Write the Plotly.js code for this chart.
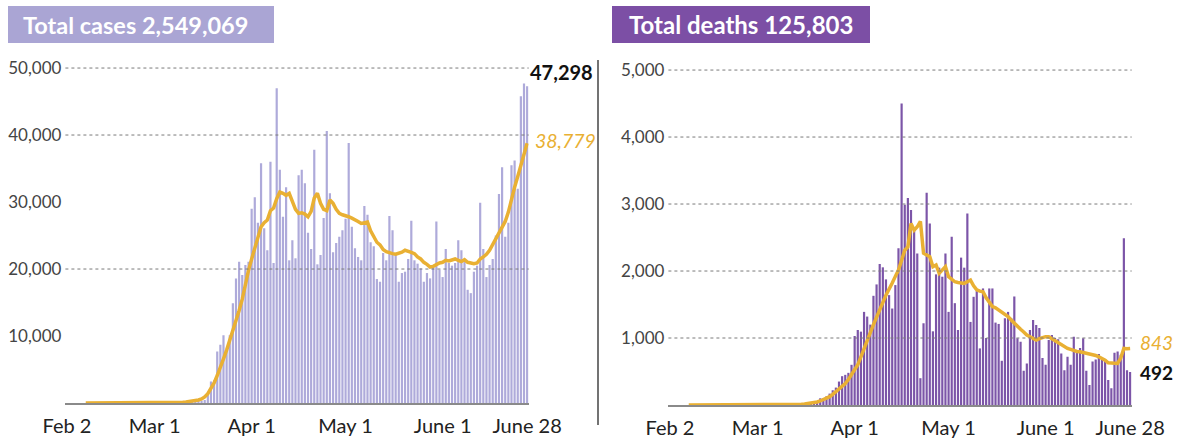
<!DOCTYPE html>
<html>
<head>
<meta charset="utf-8">
<script src="https://cdn.plot.ly/plotly-3.0.1.min.js"></script>
<style>html,body{margin:0;padding:0;background:#fff}#chart{width:1190px;height:438px}</style>
</head>
<body>
<div id="chart"></div>
<script>
// ---- data ----
const startDate = '2020-02-02';
const tickDates = ['2020-02-02','2020-03-01','2020-04-01','2020-05-01','2020-06-01','2020-06-28'];
const tickLabels = ['Feb 2','Mar 1','Apr 1','May 1','June 1','June 28'];

const casesTitle = 'Total cases 2,549,069';
const deathsTitle = 'Total deaths 125,803';

const dailyCases = [
  0,0,3,0,0,0,1,0,0,1,
  0,1,0,0,0,1,0,0,2,0,
  0,1,18,0,0,1,0,3,
  5,8,20,22,30,45,60,80,100,150,
  180,200,230,250,280,320,
  450,1200,3200,3400,7700,8700,10100,7900,10100,14900,18600,21100,19100,20600,21100,
  29000,30700,26900,35800,26100,22800,36000,20900,47000,34800,
  27800,32200,21300,24300,21600,34000,34800,32800,25400,23000,
  37800,20700,22100,27600,40600,31300,22500,23900,24800,25800,
  27500,38800,26300,23100,21800,21300,29400,28100,24000,23400,
  18500,18100,22400,21300,27900,25800,22100,18100,19400,19600,
  21500,27200,21300,20800,20100,18100,19400,18600,20500,27100,
  19900,18800,23000,20900,20500,20900,24300,22800,21500,16900,
  16400,19600,20500,29900,23000,18800,20600,21500,25000,31200,
  35200,24800,26900,35500,36200,32000,45800,47700,47298
];

const avgCases = [
  null,null,null,null,null,null,
  0,0,0,0,0,0,1,1,1,1,1,1,1,1,1,1,1,2,3,3,3,4,
  5,7,10,15,20,28,40,55,75,100,140,
  190,260,350,450,600,900,1400,2100,3000,4100,5200,6600,7900,9300,10700,12300,13800,15500,17800,19800,
  21500,23000,24800,26300,26900,27300,28700,29100,30500,31500,
  31300,31000,31300,30200,28900,28300,28400,28200,27800,28600,
  30600,31300,29800,28900,28700,30300,29800,28900,28300,28100,
  28000,27800,27600,27400,27100,26800,26900,27000,25700,24800,
  24000,23600,22900,22600,22400,22300,22200,22300,22500,22800,
  22700,22500,22300,21800,21500,21000,20700,20300,20400,20700,
  20900,21000,21300,21200,21400,21500,21300,21100,21400,21000,
  20900,20800,20900,21500,21800,22200,22800,23700,24600,25500,
  26200,27100,28500,30500,32200,33800,35500,37000,38779
];

const dailyDeaths = [
  0,0,0,0,0,0,0,0,0,0,
  0,0,0,0,0,0,0,0,0,0,
  0,0,0,0,0,0,0,1,
  1,0,4,3,2,1,1,4,3,3,5,5,
  8,10,12,18,25,30,45,60,100,100,130,170,220,260,350,430,450,480,600,
  1030,1120,1095,1390,1320,1200,1630,1800,2105,2055,1875,1640,1440,
  1790,2340,4500,2990,3090,2910,2610,2260,400,1220,
  3170,2710,1100,1950,2050,1915,2260,1390,2510,1520,
  1120,2200,2050,2860,1240,1615,1700,845,
  1740,1000,1740,1740,1230,1210,660,1295,1390,1300,
  1620,995,945,510,620,1120,1270,1195,1150,700,
  600,970,1045,1000,980,770,520,720,600,1020,
  820,850,995,510,300,650,680,760,700,680,
  375,250,780,800,750,2490,520,492
];

const avgDeaths = [
  null,null,null,null,null,null,
  0,0,0,0,0,0,0,0,0,0,0,0,0,0,0,0,0,0,0,0,0,0,
  0,0,1,1,1,2,2,2,3,3,4,5,6,
  8,11,15,20,
  25,35,45,60,80,100,125,160,200,240,
  280,320,380,450,520,600,720,830,950,1080,
  1200,1320,1420,1530,1640,1720,1820,1920,2015,2160,
  2310,2360,2710,2610,2660,2740,2265,2240,2215,2065,
  2090,1965,2020,2065,1915,1880,1840,1830,1820,1815,
  1840,1865,1780,1720,1700,1690,1600,1530,1470,1450,
  1420,1390,1350,1320,1270,1220,1170,1130,1090,1045,
  1020,990,970,990,1010,1020,1020,990,950,920,
  900,870,845,830,810,800,795,785,775,770,
  755,740,720,700,670,630,625,620,620,700,
  845,840,843
];

const casesTicks = [10000,20000,30000,40000,50000];
const casesGrid = [20000,40000,50000];
const deathsTicks = [1000,2000,3000,4000,5000];
const deathsGrid = [1000,2000,3000,4000,5000];

// ---- build dates ----
function buildDates(n){
  const out=[]; const d=new Date(startDate+'T00:00:00Z');
  for(let i=0;i<n;i++){ const t=new Date(d.getTime()+i*86400000); out.push(t.toISOString().slice(0,10)); }
  return out;
}
const dates = buildDates(dailyCases.length);
const lastDate = dates[dates.length-1];
const fmt = v => v.toLocaleString('en-US');

const W=1190,H=438;
const px = x => x/W, py = y => (H-y)/H;

const barLight='#aeaada', barDark='#7c55a8', gold='#e9b033';
const FONT='Lato, "Open Sans", sans-serif';

const traces=[
  {type:'bar', x:dates, y:dailyCases, xaxis:'x', yaxis:'y', marker:{color:barLight}, hoverinfo:'skip'},
  {type:'scatter', mode:'lines', x:dates, y:avgCases, xaxis:'x', yaxis:'y', line:{color:gold,width:3.5}, connectgaps:false, hoverinfo:'skip'},
  {type:'bar', x:dates, y:dailyDeaths, xaxis:'x2', yaxis:'y2', marker:{color:barDark}, hoverinfo:'skip'},
  {type:'scatter', mode:'lines', x:dates, y:avgDeaths, xaxis:'x2', yaxis:'y2', line:{color:gold,width:3.5}, connectgaps:false, hoverinfo:'skip'}
];

const xCommon = {
  type:'date', range:['2020-02-01 12:00','2020-06-28 12:00'],
  tickvals:tickDates, ticktext:tickLabels, showgrid:false, zeroline:false,
  showline:true, linecolor:'#8a8a8a', linewidth:1.5, ticks:'', ticklabelstandoff:4,
  tickfont:{family:FONT,size:20,color:'#222'}, fixedrange:true
};
const yCommon = {
  showgrid:false, zeroline:false, showline:false, ticks:'', ticklabelstandoff:3,
  tickfont:{family:FONT,size:17,color:'#444'}, tickformat:',', fixedrange:true
};

const shapes=[];
casesGrid.forEach(v=>shapes.push({type:'line',xref:'x domain',yref:'y',x0:0,x1:1,y0:v,y1:v,line:{color:'#7a7a7a',width:1,dash:'dot'},layer:'above'}));
deathsGrid.forEach(v=>shapes.push({type:'line',xref:'x2 domain',yref:'y2',x0:0,x1:1,y0:v,y1:v,line:{color:'#7a7a7a',width:1,dash:'dot'},layer:'above'}));
// title boxes
shapes.push({type:'rect',xref:'paper',yref:'paper',x0:px(8),x1:px(274),y0:py(43),y1:py(6),fillcolor:'#aaa5d4',line:{width:0},layer:'above'});
shapes.push({type:'rect',xref:'paper',yref:'paper',x0:px(612),x1:px(870),y0:py(43),y1:py(6),fillcolor:'#7c4fa5',line:{width:0},layer:'above'});
// divider
shapes.push({type:'line',xref:'paper',yref:'paper',x0:px(598),x1:px(598),y0:py(425),y1:py(60),line:{color:'#444',width:1.5}});

const annotations=[
  {xref:'paper',yref:'paper',x:px(21),y:py(25),xanchor:'left',yanchor:'middle',showarrow:false,text:'<b>'+casesTitle+'</b>',font:{family:FONT,size:23.5,color:'#fff'}},
  {xref:'paper',yref:'paper',x:px(627),y:py(25),xanchor:'left',yanchor:'middle',showarrow:false,text:'<b>'+deathsTitle+'</b>',font:{family:FONT,size:24,color:'#fff'}},
  {xref:'x',yref:'y',x:lastDate,y:dailyCases[dailyCases.length-1],xanchor:'left',yanchor:'middle',xshift:1,yshift:14,showarrow:false,text:'<b>'+fmt(dailyCases[dailyCases.length-1])+'</b>',font:{family:FONT,size:20,color:'#111'}},
  {xref:'x',yref:'y',x:lastDate,y:avgCases[avgCases.length-1],xanchor:'left',yanchor:'middle',xshift:6,yshift:3,showarrow:false,text:'<i>'+fmt(avgCases[avgCases.length-1])+'</i>',font:{family:FONT,size:19.5,color:gold}},
  {xref:'x2',yref:'y2',x:lastDate,y:avgDeaths[avgDeaths.length-1],xanchor:'left',yanchor:'middle',xshift:8,yshift:6,showarrow:false,text:'<i>'+fmt(avgDeaths[avgDeaths.length-1])+'</i>',font:{family:FONT,size:19,color:gold}},
  {xref:'x2',yref:'y2',x:lastDate,y:dailyDeaths[dailyDeaths.length-1],xanchor:'left',yanchor:'middle',xshift:8,yshift:0,showarrow:false,text:'<b>'+fmt(dailyDeaths[dailyDeaths.length-1])+'</b>',font:{family:FONT,size:19,color:'#111'}}
];

const layout={
  width:W,height:H,margin:{l:0,r:0,t:0,b:0},
  paper_bgcolor:'#fff',plot_bgcolor:'rgba(0,0,0,0)',
  showlegend:false,bargap:0.3,
  font:{family:FONT},
  xaxis:Object.assign({},xCommon,{domain:[px(65.4),px(528.7)],anchor:'y'}),
  yaxis:Object.assign({},yCommon,{domain:[py(403),py(60)],range:[0,51200],tickvals:casesTicks,anchor:'x'}),
  xaxis2:Object.assign({},xCommon,{domain:[px(668.4),px(1131.7)],anchor:'y2'}),
  yaxis2:Object.assign({},yCommon,{domain:[py(405),py(60)],range:[0,5150],tickvals:deathsTicks,anchor:'x2'}),
  shapes:shapes,annotations:annotations
};
Plotly.newPlot('chart',traces,layout,{displayModeBar:false,staticPlot:true});
</script>
</body>
</html>
